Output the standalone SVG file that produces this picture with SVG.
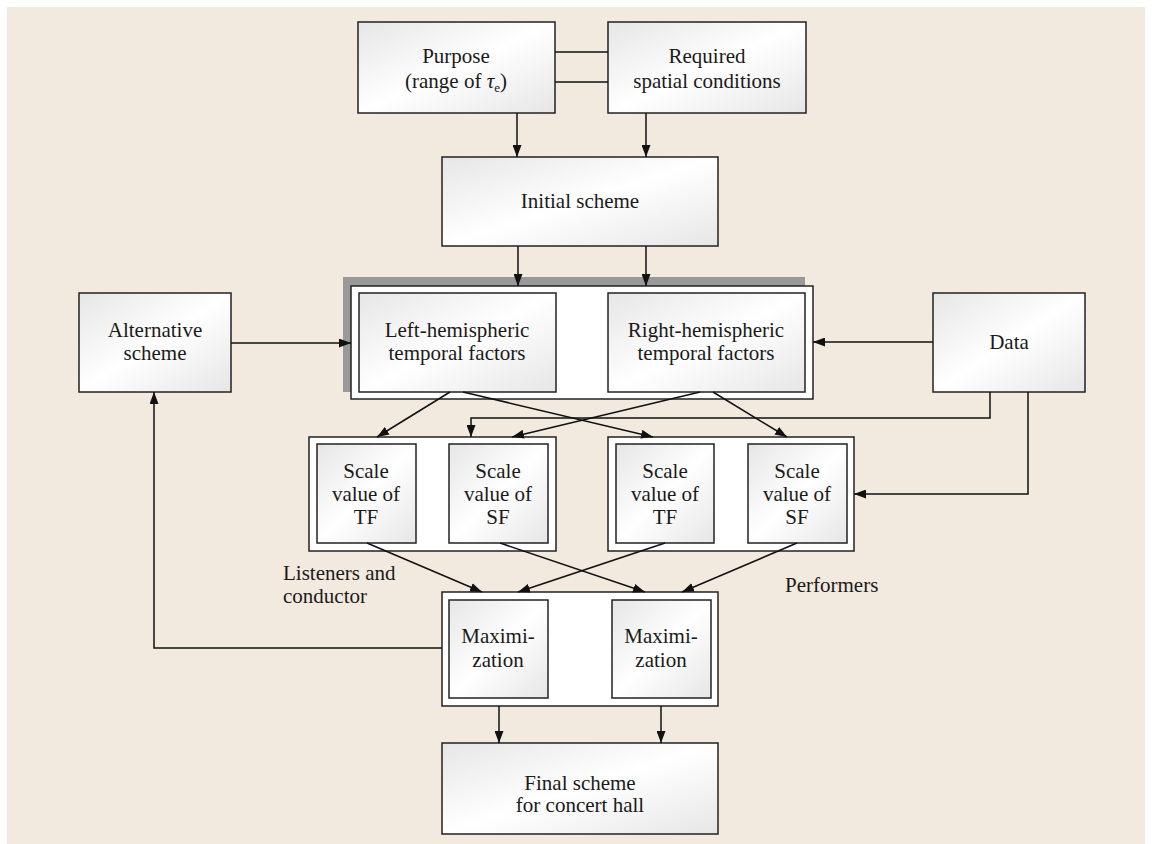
<svg xmlns="http://www.w3.org/2000/svg" width="1152" height="844" viewBox="0 0 1152 844">
  <defs>
    <linearGradient id="boxFill" x1="0" y1="0" x2="1" y2="1">
      <stop offset="0" stop-color="#e6e6e6"/>
      <stop offset="0.5" stop-color="#ffffff"/>
      <stop offset="1" stop-color="#e6e6e6"/>
    </linearGradient>
    <marker id="ah" viewBox="0 0 12 9" refX="12" refY="4.5" markerWidth="12" markerHeight="9" orient="auto" markerUnits="userSpaceOnUse">
      <path d="M0,0 L12,4.5 L0,9 z" fill="#111"/>
    </marker>
    <style>
      .box { fill: url(#boxFill); stroke: #222; stroke-width: 1.5; }
      .frame { fill: #ffffff; stroke: #222; stroke-width: 1.5; }
      .lbl { font-family: 'Liberation Serif', 'DejaVu Serif', 'Times New Roman', Times, serif; font-size: 21px; fill: #1a1a1a; text-anchor: middle; }
      .free { font-family: 'Liberation Serif', 'DejaVu Serif', 'Times New Roman', Times, serif; font-size: 21px; fill: #1a1a1a; }
      .wire { fill: none; stroke: #111; stroke-width: 1.5; }
      .arr { fill: none; stroke: #111; stroke-width: 1.5; marker-end: url(#ah); }
    </style>
  </defs>

  <!-- panel -->
  <rect x="0" y="0" width="1152" height="844" fill="#ffffff"/>
  <rect x="7" y="7" width="1138" height="837" fill="#f2e9df"/>

  <!-- top row -->
  <g id="purpose">
    <rect class="box" x="358" y="22" width="197" height="91"/>
    <text class="lbl" x="456" y="63">Purpose</text>
    <text class="lbl" x="456" y="88">(range of <tspan font-style="italic">τ</tspan><tspan font-size="13" dy="4">e</tspan><tspan dy="-4">)</tspan></text>
  </g>
  <g id="required">
    <rect class="box" x="608" y="22" width="198" height="91"/>
    <text class="lbl" x="707" y="63">Required</text>
    <text class="lbl" x="707" y="88">spatial conditions</text>
  </g>

  <g id="initial">
    <rect class="box" x="442" y="157" width="276" height="89"/>
    <text class="lbl" x="580" y="208">Initial scheme</text>
  </g>

  <!-- hemispheric factors, framed with a drop shadow -->
  <g id="hemispheric">
    <rect x="343" y="277" width="462" height="115" fill="#999999"/>
    <rect class="frame" x="351" y="286" width="462" height="113"/>
    <g id="left-hemi">
      <rect class="box" x="359" y="293" width="197" height="99"/>
      <text class="lbl" x="457" y="337">Left-hemispheric</text>
      <text class="lbl" x="457" y="360">temporal factors</text>
    </g>
    <g id="right-hemi">
      <rect class="box" x="608" y="293" width="197" height="99"/>
      <text class="lbl" x="706" y="337">Right-hemispheric</text>
      <text class="lbl" x="706" y="360">temporal factors</text>
    </g>
  </g>

  <g id="alternative">
    <rect class="box" x="79" y="293" width="152" height="99"/>
    <text class="lbl" x="155" y="337">Alternative</text>
    <text class="lbl" x="155" y="360">scheme</text>
  </g>

  <g id="data">
    <rect class="box" x="933" y="293" width="152" height="99"/>
    <text class="lbl" x="1009" y="349">Data</text>
  </g>

  <!-- scale values: listeners and conductor -->
  <g id="scale-listeners">
    <rect class="frame" x="309" y="437" width="247" height="114"/>
    <g id="tf-listeners">
      <rect class="box" x="317" y="444" width="99" height="99"/>
      <text class="lbl" x="366" y="478">Scale</text>
      <text class="lbl" x="366" y="501">value of</text>
      <text class="lbl" x="366" y="524">TF</text>
    </g>
    <g id="sf-listeners">
      <rect class="box" x="449" y="444" width="99" height="99"/>
      <text class="lbl" x="498" y="478">Scale</text>
      <text class="lbl" x="498" y="501">value of</text>
      <text class="lbl" x="498" y="524">SF</text>
    </g>
  </g>

  <!-- scale values: performers -->
  <g id="scale-performers">
    <rect class="frame" x="608" y="437" width="246" height="114"/>
    <g id="tf-performers">
      <rect class="box" x="616" y="444" width="98" height="99"/>
      <text class="lbl" x="665" y="478">Scale</text>
      <text class="lbl" x="665" y="501">value of</text>
      <text class="lbl" x="665" y="524">TF</text>
    </g>
    <g id="sf-performers">
      <rect class="box" x="748" y="444" width="99" height="99"/>
      <text class="lbl" x="797" y="478">Scale</text>
      <text class="lbl" x="797" y="501">value of</text>
      <text class="lbl" x="797" y="524">SF</text>
    </g>
  </g>

  <g id="label-listeners">
    <text class="free" x="283" y="580">Listeners and</text>
    <text class="free" x="283" y="603">conductor</text>
  </g>
  <g id="label-performers">
    <text class="free" x="785" y="592">Performers</text>
  </g>

  <!-- maximization -->
  <g id="maximization">
    <rect class="frame" x="442" y="592" width="276" height="114"/>
    <g id="max-listeners">
      <rect class="box" x="449" y="600" width="99" height="98"/>
      <text class="lbl" x="498" y="643">Maximi-</text>
      <text class="lbl" x="498" y="667">zation</text>
    </g>
    <g id="max-performers">
      <rect class="box" x="612" y="600" width="99" height="98"/>
      <text class="lbl" x="661" y="643">Maximi-</text>
      <text class="lbl" x="661" y="667">zation</text>
    </g>
  </g>

  <g id="final">
    <rect class="box" x="442" y="743" width="276" height="91"/>
    <text class="lbl" x="580" y="790">Final scheme</text>
    <text class="lbl" x="580" y="812">for concert hall</text>
  </g>

  <!-- connectors -->
  <g id="connectors">
    <line class="wire" x1="555" y1="52" x2="608" y2="52"/>
    <line class="wire" x1="555" y1="82" x2="608" y2="82"/>
    <line class="arr" x1="517" y1="113" x2="517" y2="157"/>
    <line class="arr" x1="646" y1="113" x2="646" y2="157"/>
    <line class="arr" x1="518" y1="246" x2="518" y2="286"/>
    <line class="arr" x1="646" y1="246" x2="646" y2="286"/>
    <line class="arr" x1="231" y1="343" x2="351" y2="343"/>
    <line class="arr" x1="933" y1="342" x2="813" y2="342"/>
    <line class="arr" x1="450" y1="392" x2="377" y2="437"/>
    <line class="arr" x1="463" y1="392" x2="653" y2="437"/>
    <line class="arr" x1="700" y1="392" x2="512" y2="437"/>
    <line class="arr" x1="713" y1="392" x2="787" y2="437"/>
    <polyline class="arr" points="990,392 990,418 471,418 471,437"/>
    <polyline class="arr" points="1028,392 1028,494 854,494"/>
    <line class="arr" x1="367" y1="543" x2="482" y2="592"/>
    <line class="arr" x1="500" y1="543" x2="645" y2="592"/>
    <line class="arr" x1="665" y1="543" x2="518" y2="592"/>
    <line class="arr" x1="797" y1="543" x2="682" y2="592"/>
    <polyline class="arr" points="442,648 154,648 154,392"/>
    <line class="arr" x1="499" y1="706" x2="499" y2="743"/>
    <line class="arr" x1="661" y1="706" x2="661" y2="743"/>
  </g>
</svg>
